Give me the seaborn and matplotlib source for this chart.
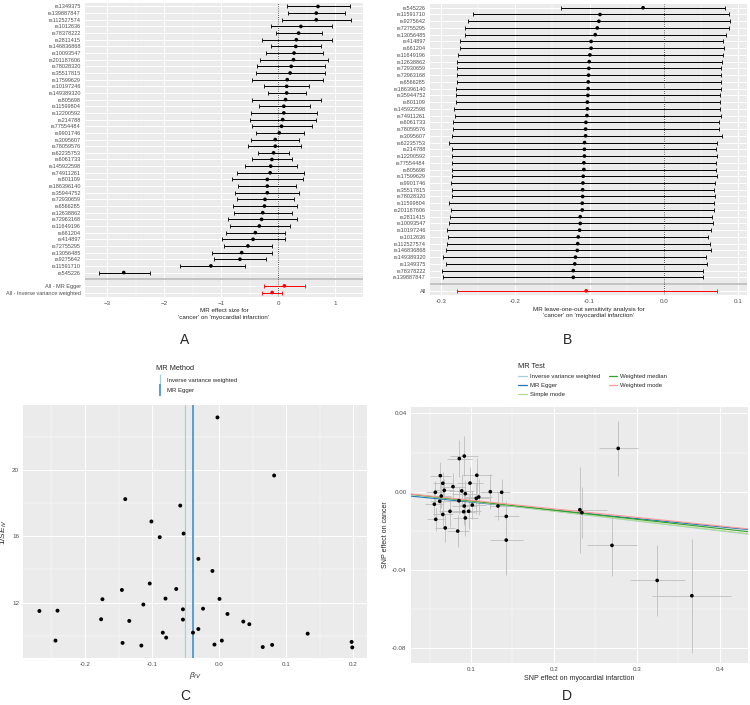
import numpy as np
import pandas as pd
import matplotlib
matplotlib.use("Agg")
import matplotlib.pyplot as plt
import seaborn as sns
from matplotlib.lines import Line2D
from matplotlib.ticker import MultipleLocator

# ---- A: single SNP forest plot ----
snps_a = ['rs1349375', 'rs139887847', 'rs112527574', 'rs1012636', 'rs78378222', 'rs2811415',
          'rs146836868', 'rs10093547', 'rs201187606', 'rs78028320', 'rs35517815', 'rs17599629',
          'rs10197246', 'rs149389320', 'rs805698', 'rs11599804', 'rs12200592', 'rs214788',
          'rs77554484', 'rs9901746', 'rs3095607', 'rs78059576', 'rs62235753', 'rs6061733',
          'rs145922598', 'rs74911261', 'rs801109', 'rs186396140', 'rs35944752', 'rs72930659',
          'rs6566285', 'rs12638862', 'rs72963168', 'rs11649196', 'rs661204', 'rs414897',
          'rs72755295', 'rs13056485', 'rs9275642', 'rs11591710', 'rs545226']
b_a = [0.70, 0.67, 0.67, 0.40, 0.36, 0.32, 0.31, 0.28, 0.27, 0.23, 0.21, 0.16, 0.15, 0.15, 0.13,
       0.10, 0.10, 0.08, 0.06, 0.02, -0.05, -0.05, -0.08, -0.11, -0.13, -0.14, -0.19, -0.19, -0.19,
       -0.23, -0.24, -0.27, -0.29, -0.33, -0.40, -0.44, -0.53, -0.64, -0.67, -1.18, -2.71]
lo_a = [0.15, 0.18, 0.06, -0.13, -0.04, -0.29, -0.12, -0.21, -0.32, -0.37, -0.39, -0.45, -0.25,
        -0.18, -0.46, -0.34, -0.48, -0.50, -0.46, -0.39, -0.47, -0.52, -0.35, -0.46, -0.59, -0.72,
        -0.81, -0.71, -0.75, -0.73, -0.80, -0.77, -0.88, -0.85, -0.92, -0.99, -0.95, -1.16, -1.12,
        -1.73, -3.15]
hi_a = [1.26, 1.18, 1.28, 0.94, 0.77, 0.95, 0.75, 0.78, 0.88, 0.83, 0.82, 0.79, 0.55, 0.49, 0.75,
        0.56, 0.68, 0.66, 0.59, 0.46, 0.36, 0.40, 0.19, 0.25, 0.34, 0.46, 0.44, 0.32, 0.37, 0.27,
        0.33, 0.25, 0.33, 0.21, 0.12, 0.12, -0.11, -0.11, -0.21, -0.59, -2.25]
all_a = ['All - MR Egger', 'All - Inverse variance weighted']
all_b_a = [0.11, -0.105]
all_lo_a = [-0.25, -0.28]
all_hi_a = [0.48, 0.07]

# ---- B: leave-one-out ----
snps_b = ['rs545226', 'rs11591710', 'rs9275642', 'rs72755295', 'rs13056485', 'rs414897',
          'rs661204', 'rs11649196', 'rs12638862', 'rs72930659', 'rs72963168', 'rs6566285',
          'rs186396140', 'rs35944752', 'rs801109', 'rs145922598', 'rs74911261', 'rs6061733',
          'rs78059576', 'rs3095607', 'rs62235753', 'rs214788', 'rs12200592', 'rs77554484',
          'rs805698', 'rs17599629', 'rs9901746', 'rs35517815', 'rs78028320', 'rs11599804',
          'rs201187606', 'rs2811415', 'rs10093547', 'rs10197246', 'rs1012636', 'rs112527574',
          'rs146836868', 'rs149389320', 'rs1349375', 'rs78378222', 'rs139887847']
b_b = [-0.028, -0.086, -0.0875, -0.0897, -0.0924, -0.098, -0.098, -0.0996, -0.1005, -0.101,
       -0.1014, -0.1018, -0.102, -0.1023, -0.103, -0.103, -0.1036, -0.105, -0.1054, -0.1054,
       -0.1068, -0.107, -0.107, -0.1077, -0.1077, -0.1086, -0.109, -0.1094, -0.1094, -0.1099,
       -0.1099, -0.1126, -0.1126, -0.1135, -0.1153, -0.116, -0.1166, -0.119, -0.120, -0.122, -0.122]
lo_b = [-0.138, -0.257, -0.264, -0.268, -0.268, -0.275, -0.275, -0.277, -0.278, -0.279, -0.279,
        -0.279, -0.280, -0.280, -0.280, -0.282, -0.281, -0.284, -0.284, -0.285, -0.290, -0.285,
        -0.285, -0.286, -0.285, -0.285, -0.287, -0.286, -0.286, -0.289, -0.287, -0.288, -0.290,
        -0.292, -0.291, -0.292, -0.294, -0.297, -0.294, -0.299, -0.297]
hi_b = [0.0817, 0.0875, 0.0893, 0.0884, 0.0843, 0.0803, 0.0807, 0.0790, 0.0785, 0.0776, 0.0772,
        0.0772, 0.0767, 0.0763, 0.0763, 0.0754, 0.0767, 0.0745, 0.0745, 0.0781, 0.0713, 0.0709,
        0.0713, 0.0704, 0.0700, 0.0718, 0.0690, 0.0682, 0.0690, 0.0682, 0.0669, 0.0650, 0.0660,
        0.0633, 0.0597, 0.0615, 0.0637, 0.0561, 0.0579, 0.0534, 0.0534]
all_b = ['All']
all_b_b = [-0.1046]
all_lo_b = [-0.278]
all_hi_b = [0.071]

# ---- C: funnel plot ----
beta_iv = [-0.0025, 0.082, -0.140, -0.058, -0.101, -0.053, -0.0886, -0.031, -0.010, -0.1035,
           -0.064, -0.145, -0.174, -0.080, 0.0005, -0.113, -0.241, -0.268, -0.054, -0.024,
           0.0124, -0.176, -0.054, -0.134, 0.036, 0.045, -0.031, -0.084, -0.039, 0.132,
           -0.079, -0.244, 0.004, 0.1975, -0.144, -0.007, -0.116, 0.079, 0.065, 0.1985]
inv_se = [23.19, 19.68, 18.25, 17.86, 16.90, 16.17, 15.95, 14.64, 13.91, 13.15,
          12.82, 12.76, 12.20, 12.24, 12.22, 11.88, 11.51, 11.49, 11.59, 11.63,
          11.31, 10.99, 10.97, 10.89, 10.85, 10.69, 10.40, 10.18, 10.18, 10.12,
          9.88, 9.70, 9.70, 9.62, 9.56, 9.46, 9.40, 9.44, 9.31, 9.29]
funnel_methods = ['Inverse variance weighted', 'MR Egger']
funnel_b = [-0.0507, -0.039]

# ---- D: scatter plot ----
bx = [0.0919, 0.0859, 0.063, 0.107, 0.066, 0.0988, 0.0783, 0.0678, 0.0888, 0.057, 0.1233, 0.137,
      0.0932, 0.0642, 0.1093, 0.1064, 0.0623, 0.0855, 0.0558, 0.0919, 0.1016, 0.1325, 0.0747,
      0.0912, 0.0972, 0.066, 0.0932, 0.1425, 0.0575, 0.069, 0.084, 0.1425, 0.2775, 0.2313,
      0.2337, 0.270, 0.3245, 0.3663]
by = [0.0182, 0.0169, 0.0082, 0.0084, 0.0043, 0.0044, 0.0026, 0.0007, 0.0004, -0.0003, 0.0,
      -0.0003, -0.001, -0.0022, -0.0027, -0.0034, -0.0049, -0.0046, -0.0064, -0.0073, -0.0068,
      -0.0073, -0.010, -0.0102, -0.010, -0.0116, -0.0134, -0.0126, -0.0141, -0.0185, -0.0201,
      -0.0247, 0.0221, -0.0092, -0.0107, -0.0274, -0.0453, -0.0531]
sex = [0.017, 0.015, 0.013, 0.018, 0.012, 0.016, 0.014, 0.012, 0.015, 0.011, 0.013, 0.010, 0.016,
       0.012, 0.016, 0.015, 0.012, 0.015, 0.011, 0.015, 0.016, 0.010, 0.013, 0.014, 0.015, 0.012,
       0.015, 0.015, 0.011, 0.012, 0.013, 0.020, 0.0235, 0.033, 0.016, 0.030, 0.033, 0.0475]
sey = [0.0102, 0.0095, 0.007, 0.009, 0.006, 0.008, 0.007, 0.006, 0.008, 0.006, 0.009, 0.0066,
       0.007, 0.006, 0.009, 0.008, 0.006, 0.007, 0.006, 0.008, 0.007, 0.007, 0.008, 0.007, 0.009,
       0.007, 0.009, 0.008, 0.006, 0.007, 0.008, 0.018, 0.014, 0.022, 0.013, 0.0157, 0.018, 0.029]
mr_tests = ['Inverse variance weighted', 'MR Egger', 'Simple mode', 'Weighted median', 'Weighted mode']
mr_intercept = [0.0, -0.0011, 0.0, 0.0, 0.0]
mr_slope = [-0.0500, -0.0420, -0.0495, -0.0470, -0.0437]
mr_colors = ['#a6cee3', '#1f78b4', '#b2df8a', '#33a02c', '#fb9a99']

sns.set_theme(style="darkgrid")
plt.rcParams['font.family'] = ['Liberation Sans', 'DejaVu Sans']
plt.rcParams['mathtext.fontset'] = 'custom'
plt.rcParams['mathtext.rm'] = 'Liberation Sans'
plt.rcParams['mathtext.it'] = 'Liberation Sans:italic'

W, H = 750, 705
fig = plt.figure(figsize=(7.5, 7.05), dpi=100)


def px_axes(x0, y0, x1, y1):
    return fig.add_axes([x0 / W, 1 - y1 / H, (x1 - x0) / W, (y1 - y0) / H])


def gg_style(ax):
    ax.set_facecolor('#EBEBEB')
    for s in ax.spines.values():
        s.set_visible(False)
    ax.grid(which='major', color='white', lw=0.7)
    ax.grid(which='minor', color='white', lw=0.35)
    ax.tick_params(which='major', length=2, width=0.5, color='#333333', labelsize=4.5,
                   labelcolor='#4D4D4D', pad=1)
    ax.tick_params(which='minor', length=0)
    ax.set_axisbelow(True)


def forest(ax, labels, b, lo, hi, alabels, ab, alo, ahi, xlim, major, minor, xlabel):
    n = len(labels)
    rows = list(labels) + [''] + list(alabels)
    df = pd.DataFrame({'b': b, 'lo': lo, 'hi': hi, 'pos': np.arange(n)})
    da = pd.DataFrame({'b': ab, 'lo': alo, 'hi': ahi, 'pos': np.arange(n + 1, len(rows))})
    gg_style(ax)
    ax.axhline(n, color='#BEBEBE', lw=1.3, zorder=1)
    ax.axvline(0, color='#222222', ls=(0, (1, 1.6)), lw=0.6, zorder=1)
    ax.errorbar(df.b, df.pos, xerr=[df.b - df.lo, df.hi - df.b], fmt='none', ecolor='black',
                elinewidth=0.7, capsize=1.3, capthick=0.6, zorder=2)
    ax.errorbar(da.b, da.pos, xerr=[da.b - da.lo, da.hi - da.b], fmt='none', ecolor='red',
                elinewidth=0.7, capsize=1.3, capthick=0.6, zorder=2)
    sns.scatterplot(data=df, x='b', y='pos', color='black', s=7, edgecolor='none', ax=ax, zorder=3)
    sns.scatterplot(data=da, x='b', y='pos', color='red', s=7, edgecolor='none', ax=ax, zorder=3)
    ax.set_yticks(np.arange(len(rows)))
    ax.set_yticklabels(rows, fontsize=4)
    ax.set_ylim(len(rows) - 1 + 0.6, -0.6)
    ax.set_xlim(*xlim)
    ax.xaxis.set_major_locator(MultipleLocator(major))
    ax.xaxis.set_minor_locator(MultipleLocator(minor))
    ax.set_xlabel(xlabel, fontsize=4.5, labelpad=2, linespacing=1.4)
    ax.set_ylabel('')


axA = px_axes(85, 2.5, 363, 296.5)
forest(axA, snps_a, b_a, lo_a, hi_a, all_a, all_b_a, all_lo_a, all_hi_a, (-3.39, 1.49), 1, 0.5,
       "MR effect size for\n'cancer' on 'myocardial infarction'")

axB = px_axes(430, 3.7, 747, 294.9)
forest(axB, snps_b, b_b, lo_b, hi_b, all_b, all_b_b, all_lo_b, all_hi_b, (-0.315, 0.112), 0.1, 0.05,
       "MR leave-one-out sensitivity analysis for\n'cancer' on 'myocardial infarction'")
axB.set_xticks([-0.3, -0.2, -0.1, 0.0, 0.1])
axB.set_xticklabels(['-0.3', '-0.2', '-0.1', '0.0', '0.1'])

# ---- C ----
funnel_cols = ['#a6cee3', '#5a9ed0']
funnel_w = [0.9, 1.4]
axC = px_axes(23.3, 405, 366.7, 658.3)
gg_style(axC)
for v, c, w in zip(funnel_b, funnel_cols, funnel_w):
    axC.axvline(v, color=c, lw=w, zorder=2)
sns.scatterplot(x=beta_iv, y=inv_se, color='black', s=8, edgecolor='none', ax=axC, zorder=3)
axC.set_xlim(-0.292, 0.22)
axC.set_ylim(8.63, 23.94)
axC.set_xticks([-0.2, -0.1, 0.0, 0.1, 0.2])
axC.set_xticklabels(['-0.2', '-0.1', '0.0', '0.1', '0.2'])
axC.xaxis.set_minor_locator(MultipleLocator(0.05))
axC.set_yticks([12, 16, 20])
axC.yaxis.set_minor_locator(MultipleLocator(2))
axC.set_xlabel(r'$\beta_{IV}$', fontsize=6, labelpad=2)
axC.set_ylabel(r'$1/SE_{IV}$', fontsize=6, labelpad=2)
hC = [Line2D([], [], color=c, lw=0, marker='|', markersize=9, markeredgewidth=w)
      for c, w in zip(funnel_cols, funnel_w)]
fig.legend(hC, funnel_methods, title='MR Method', loc='upper left',
           bbox_to_anchor=(151 / W, 1 - 360 / H), frameon=False, fontsize=4.3,
           title_fontsize=5.3, alignment='left', handlelength=1.2, handletextpad=0.6,
           labelspacing=0.9)

# ---- D ----
axD = px_axes(410.7, 406.7, 748, 662.7)
gg_style(axD)
axD.errorbar(bx, by, xerr=sex, yerr=sey, fmt='none', ecolor='#BEBEBE', elinewidth=0.6, zorder=2)
sns.scatterplot(x=bx, y=by, color='black', s=7, edgecolor='none', ax=axD, zorder=4)
for a, s, c in zip(mr_intercept, mr_slope, mr_colors):
    axD.axline((0, a), slope=s, color=c, lw=0.8, zorder=3)
axD.set_xlim(0.0273, 0.434)
axD.set_ylim(-0.0873, 0.0434)
axD.set_xticks([0.1, 0.2, 0.3, 0.4])
axD.set_xticklabels(['0.1', '0.2', '0.3', '0.4'])
axD.xaxis.set_minor_locator(MultipleLocator(0.05))
axD.set_yticks([-0.08, -0.04, 0.0, 0.04])
axD.set_yticklabels(['-0.08', '-0.04', '0.00', '0.04'])
axD.yaxis.set_minor_locator(MultipleLocator(0.02))
axD.set_xlabel('SNP effect on myocardial infarction', fontsize=5, labelpad=2)
axD.set_ylabel('SNP effect on cancer', fontsize=5, labelpad=2)
hD = [Line2D([], [], color=c, lw=0.9) for c in mr_colors]
fig.legend(hD, mr_tests, title='MR Test', loc='upper left', ncol=2,
           bbox_to_anchor=(513 / W, 1 - 358 / H), frameon=False, fontsize=4.3,
           title_fontsize=5.3, alignment='left', handlelength=1.4, handletextpad=0.5,
           labelspacing=0.6, columnspacing=1.5)

for lab, x, y in [('A', 185, 340), ('B', 567, 340), ('C', 185, 696), ('D', 567, 696)]:
    fig.text(x / W, 1 - y / H, lab, fontsize=10, ha='center', va='center')

fig.savefig('out.png', dpi=100, facecolor='white')
